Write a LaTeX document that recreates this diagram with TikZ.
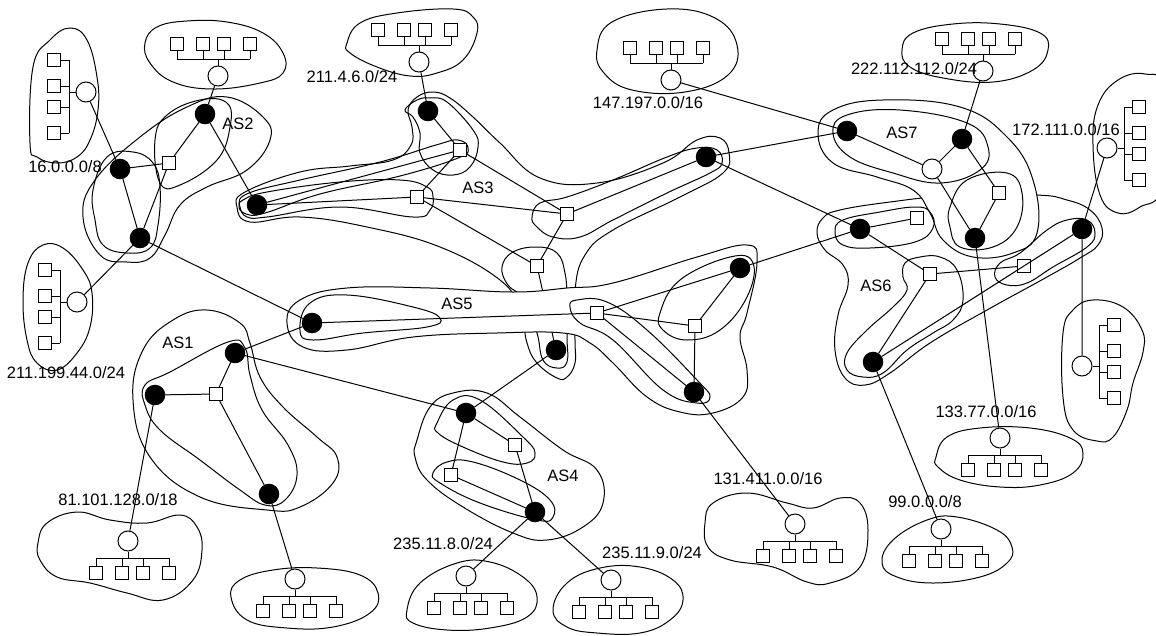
\documentclass[tikz,border=0pt]{standalone}
\usepackage{fontspec}
\setmainfont{Liberation Sans}
\usetikzlibrary{backgrounds}
\tikzset{
  rtr/.style={circle,draw,fill=black,minimum size=19.5pt,inner sep=0pt},
  gw/.style={circle,draw,fill=white,minimum size=20pt,inner sep=0pt},
  sw/.style={rectangle,draw,fill=white,minimum size=12.5pt,inner sep=0pt},
  host/.style={rectangle,draw,fill=white,minimum size=13pt,inner sep=0pt},
  net/.style={inner sep=0pt},
  asfill/.style={fill=white},
}
% a subnet: gateway, bus and four hosts; #4 turns it (0 = hosts below)
\newcommand{\lan}[4]{%
  \begin{scope}[shift={(#2,#3)},rotate=#4]
    \node[gw] (#1) at (0,0) {};
    \draw (#1) -- (0,17) (-32,17) -- (41,17);
    \foreach \dx [count=\i] in {-32,-6,15,41}{
      \node[host] (#1-\i) at (\dx,32) {};
      \draw (\dx,17) -- (#1-\i);
    }
  \end{scope}}
\newcommand{\blob}[2][]{\draw[#1] plot[smooth cycle,tension=0.7] coordinates {#2};}

\begin{document}
\begin{tikzpicture}[x=1pt,y=-1pt,line width=1pt,font=\fontsize{16.5}{19}\selectfont]
  \useasboundingbox (0,0) rectangle (1156,635);

  % AS2
  \node[rtr] (b2a) at (205,114) {};
  \node[rtr] (b2b) at (120,169) {};
  \node[rtr] (b2c) at (140,238) {};
  \node[sw] (s2) at (169,163) {};
  % AS3
  \node[rtr] (b3t) at (428,111) {};
  \node[rtr] (b3l) at (257,205) {};
  \node[rtr] (b3r) at (706,157) {};
  \node[rtr] (b3b) at (556,350) {};
  \node[sw] (s3a) at (460,150) {};
  \node[sw] (s3b) at (417,197) {};
  \node[sw] (s3c) at (567,214) {};
  \node[sw] (s3d) at (537,266) {};
  % AS5
  \node[rtr] (b5l) at (312,323) {};
  \node[rtr] (b5r) at (740,268) {};
  \node[rtr] (b5b) at (694,392) {};
  \node[sw] (s5a) at (597,313) {};
  \node[sw] (s5b) at (695,326) {};
  % AS1
  \node[rtr] (b1a) at (235,353) {};
  \node[rtr] (b1b) at (155,395) {};
  \node[rtr] (b1c) at (269,494) {};
  \node[sw] (s1) at (216,394) {};
  % AS4
  \node[rtr] (b4a) at (466,413) {};
  \node[rtr] (b4b) at (535,512) {};
  \node[sw] (s4a) at (515,445) {};
  \node[sw] (s4b) at (451,475) {};
  % AS7
  \node[rtr] (b7a) at (847,131) {};
  \node[rtr] (b7b) at (962,139) {};
  \node[rtr] (b7c) at (975,238) {};
  \node[gw] (c7) at (932,169) {};
  \node[sw] (s7) at (999,193) {};
  % AS6
  \node[rtr] (b6a) at (860,229) {};
  \node[rtr] (b6b) at (1082,229) {};
  \node[rtr] (b6c) at (873,362) {};
  \node[sw] (s6a) at (917,218) {};
  \node[sw] (s6b) at (930,274) {};
  \node[sw] (s6c) at (1024,266) {};

  % subnets
  \lan{l16}{86}{92}{270}
  \lan{l2a}{218}{76}{180}
  \lan{l2114}{419}{62}{180}
  \lan{l147}{671}{80}{180}
  \lan{l222}{983}{71}{180}
  \lan{l172}{1107}{148}{90}
  \lan{lbr}{1082}{366}{90}
  \lan{l133}{1000}{438}{0}
  \lan{l99}{941}{529}{0}
  \lan{l131}{795}{524}{0}
  \lan{l2359}{611}{580}{0}
  \lan{l2358}{466}{576}{0}
  \lan{lbl}{295}{579}{0}
  \lan{l81}{128}{541}{0}
  \lan{l211}{77}{302}{270}

  % labels
  \node[net] (t16) at (65,167) {16.0.0.0/8};
  \node[net] (tas2) at (238,124) {AS2};
  \node[net] (t2114) at (352,77) {211.4.6.0/24};
  \node[net] (tas3) at (478,188) {AS3};
  \node[net] (t147) at (648,103) {147.197.0.0/16};
  \node[net] (t222) at (914,69) {222.112.112.0/24};
  \node[net] (tas7) at (902,133) {AS7};
  \node[net] (t172) at (1066,130) {172.111.0.0/16};
  \node[net] (tas6) at (876,286) {AS6};
  \node[net] (tas5) at (457,304) {AS5};
  \node[net] (tas1) at (178,343) {AS1};
  \node[net] (t211) at (66,373) {211.199.44.0/24};
  \node[net] (t81) at (118,500) {81.101.128.0/18};
  \node[net] (tas4) at (563,476) {AS4};
  \node[net] (t2358) at (443,544) {235.11.8.0/24};
  \node[net] (t2359) at (652,553) {235.11.9.0/24};
  \node[net] (t131) at (768,479) {131.411.0.0/16};
  \node[net] (t99) at (925,502) {99.0.0.0/8};
  \node[net] (t133) at (986,412) {133.77.0.0/16};

  % links
  \draw (b2a) -- (l2a) (b2a) -- (s2) (b2a) -- (b3l) (b2b) -- (s2)
        (b2b) -- (b2c) (s2) -- (b2c) (b2b) -- (l16) (b2c) -- (l211)
        (b2c) -- (b5l);
  \draw (b3t) -- (l2114) (b3t) -- (s3a) (b3l) -- (s3a) (b3l) -- (s3b)
        (s3a) -- (s3b) (s3a) -- (s3c) (s3b) -- (s3c) (s3b) -- (s3d)
        (s3c) -- (s3d) (s3c) -- (b3r) (b3r) -- (b7a) (b3r) -- (b6a)
        (b3b) -- (b4a);
  \draw (b5l) -- (s5a) (s5a) -- (b5r) (s5a) -- (s5b) (s5a) -- (b5b)
        (s5b) -- (b5r) (s5b) -- (b5b) (b5r) -- (b6a) (b5b) -- (l131);
  \draw (b1a) -- (b5l) (b1a) -- (s1) (b1b) -- (s1) (s1) -- (b1c)
        (b1b) -- (l81) (b1c) -- (lbl) (b1a) -- (b4a);
  \draw (b4a) -- (s4a) (b4a) -- (s4b) (s4a) -- (b4b) (s4b) -- (b4b)
        (b4b) -- (l2358) (b4b) -- (l2359);
  \draw (b7a) -- (l147) (b7a) -- (c7) (c7) -- (b7b) (b7b) -- (l222)
        (b7b) -- (s7) (s7) -- (b7c) (c7) -- (b7c) (b7c) -- (l133);
  \draw (b6a) -- (s6a) (b6a) -- (s6b) (s6b) -- (s6c) (s6b) -- (b6c)
        (b6c) -- (s6c) (b6c) -- (b6b) (s6c) -- (b6b) (b6b) -- (l172)
        (b6b) -- (lbr) (b6c) -- (l99);

  \begin{scope}[on background layer={line width=1pt}]
    % subnet outlines
    \blob{(30,143) (33,67) (50,40) (70,28) (87,40) (97,77) (98,110) (90,140) (77,157) (57,163) (37,157)}
    \blob{(145,43) (157,27) (187,21) (227,22) (263,33) (283,53) (283,73) (260,83) (213,89) (173,82) (150,63)}
    \blob{(347,43) (360,23) (397,13) (453,9) (473,17) (477,33) (463,60) (437,73) (410,76) (377,67) (350,53)}
    \blob{(597,50) (612,22) (667,9) (715,18) (737,45) (728,75) (685,92) (632,90) (604,73)}
    \blob{(902,50) (913,33) (953,24) (1000,24) (1040,33) (1048,50) (1033,70) (993,82) (943,78) (910,67)}
    \blob{(1093,145) (1098,105) (1118,80) (1145,74) (1162,90) (1162,185) (1140,207) (1118,213) (1100,195)}
    \blob{(1063,333) (1073,310) (1093,300) (1123,307) (1142,330) (1143,352) (1133,383) (1127,410) (1113,437) (1097,441) (1073,430) (1063,397)}
    \blob{(936,457) (947,437) (980,428) (1030,428) (1070,438) (1083,453) (1073,473) (1040,485) (1000,487) (960,480) (938,467)}
    \blob{(882,563) (893,540) (927,520) (957,517) (997,530) (1012,547) (1007,563) (980,577) (933,583) (897,577)}
    \blob{(705,523) (713,503) (747,493) (787,503) (813,508) (840,498) (860,503) (868,530) (860,567) (830,583) (807,582) (773,567) (730,560) (708,547)}
    \blob{(553,610) (567,583) (600,568) (640,567) (673,580) (683,600) (670,620) (640,633) (597,633) (567,627)}
    \blob{(407,610) (420,583) (457,563) (490,562) (523,577) (537,597) (527,617) (490,628) (447,630) (413,623)}
    \blob{(231,597) (240,580) (273,570) (317,568) (360,575) (378,593) (370,613) (333,627) (287,628) (247,620)}
    \blob{(38,543) (47,523) (77,512) (110,520) (147,523) (180,515) (197,527) (202,550) (193,580) (163,600) (127,593) (90,583) (57,577) (40,560)}
    \blob{(23,300) (28,263) (43,245) (63,248) (83,270) (92,293) (90,327) (77,353) (57,370) (37,363) (27,340)}

    % AS2
    \blob{(83,217) (95,180) (140,137) (187,107) (227,97) (263,117) (270,140) (247,170) (207,187) (180,205) (165,235) (150,258) (127,262) (100,255)}
    \blob{(155,140) (167,115) (200,100) (227,103) (230,127) (217,160) (180,185) (160,183)}
    \blob{(93,190) (107,157) (133,152) (153,163) (160,187) (158,225) (150,248) (127,253) (103,245) (95,220)}
    % AS3
    \blob{(237,207) (245,192) (300,172) (350,166) (393,160) (411,145) (412,127) (408,110) (417,97) (433,92) (450,98) (473,117) (500,143) (540,178) (597,183) (663,163) (697,140) (720,138) (729,153) (723,173) (680,197) (613,230) (585,255) (575,290) (575,340) (575,363) (567,377) (557,378) (537,363) (527,343) (520,310) (500,280) (440,247) (367,227) (300,217) (250,222)}
    \blob{(405,110) (417,100) (430,98) (447,102) (473,130) (478,147) (470,167) (453,175) (433,170) (420,153) (420,133) (413,117)}
    \blob{(240,207) (247,217) (267,217) (340,207) (413,217) (430,210) (433,197) (427,187) (400,180) (340,182) (267,192) (243,200)}
    \blob{(239,205) (249,193) (300,180) (380,162) (436,145) (458,140) (468,148) (458,158) (400,176) (320,194) (265,213) (246,214)}
    \blob{(532,217) (540,203) (567,197) (613,180) (667,157) (697,148) (717,150) (722,163) (710,173) (667,193) (613,220) (580,237) (553,237) (537,227)}
    \blob{(502,267) (513,252) (537,247) (557,253) (565,273) (567,300) (567,337) (567,362) (557,368) (543,360) (537,333) (525,300) (508,285)}
    \draw (s3d) -- (b3b);
    % AS6 and AS7
    \blob{(817,233) (823,218) (840,210) (890,202) (950,196) (1035,195) (1067,200) (1090,210) (1102,228) (1098,245) (1080,258) (1047,277) (987,310) (930,343) (890,373) (865,385) (845,378) (835,350) (838,315) (848,285) (843,265) (825,250)}
    \blob[asfill]{(818,133) (833,110) (883,100) (960,107) (1007,137) (1033,180) (1037,233) (1013,253) (973,257) (943,240) (930,213) (913,190) (877,177) (833,163)}
    \blob{(833,133) (847,115) (900,110) (967,123) (988,147) (980,170) (940,183) (893,173) (850,157)}
    \blob{(950,207) (967,180) (1007,173) (1022,193) (1017,227) (993,247) (960,247) (950,227)}
    \blob{(835,232) (843,220) (880,212) (915,207) (930,212) (933,228) (915,242) (870,248) (843,245)}
    \blob{(903,277) (905,263) (920,257) (940,257) (957,270) (963,300) (953,320) (933,333) (907,350) (883,373) (863,377) (847,370) (847,353) (867,330) (893,307) (907,290)}
    \blob{(995,277) (1000,263) (1020,253) (1047,230) (1067,220) (1087,220) (1095,233) (1087,247) (1053,267) (1027,283) (1007,285)}
    % AS5
    \blob[asfill]{(287,323) (300,300) (347,288) (430,288) (513,292) (567,288) (613,283) (697,257) (747,245) (757,262) (747,313) (740,337) (747,370) (743,397) (713,413) (680,412) (647,397) (613,363) (590,343) (563,333) (497,333) (413,337) (347,350) (303,347)}
    \blob{(300,330) (310,303) (347,295) (413,307) (440,318) (427,327) (363,333) (313,340)}
    \blob{(570,307) (577,300) (607,302) (647,330) (697,380) (710,397) (697,403) (663,390) (613,340) (580,323)}
    \blob{(660,313) (680,280) (730,257) (753,263) (747,297) (720,330) (687,340) (663,330)}
    % AS4
    \blob{(417,440) (430,407) (453,393) (487,393) (520,417) (563,450) (597,470) (603,503) (583,527) (547,540) (513,533) (463,507) (427,480) (415,457)}
    \blob{(437,423) (453,400) (480,400) (523,437) (535,453) (527,463) (503,462) (463,447) (438,433)}
    \blob{(433,473) (447,462) (473,462) (520,480) (550,500) (553,517) (537,520) (480,503) (440,483)}
    % AS1
    \blob{(133,400) (143,350) (173,320) (207,310) (240,323) (250,343) (260,377) (283,407) (317,437) (337,457) (333,483) (300,507) (267,510) (200,497) (150,457)}
    \blob{(145,385) (170,372) (228,342) (245,348) (250,375) (262,410) (288,445) (297,475) (285,500) (265,505) (240,490) (200,460) (160,430) (145,405)}
  \end{scope}
\end{tikzpicture}
\end{document}
